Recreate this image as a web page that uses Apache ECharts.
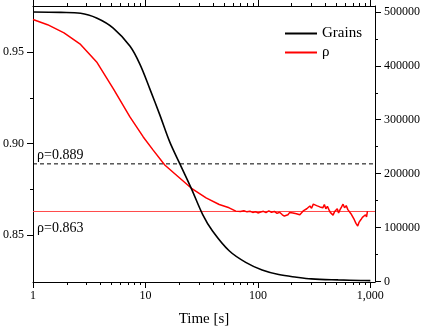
<!DOCTYPE html>
<html><head><meta charset="utf-8">
<script src="https://cdn.jsdelivr.net/npm/echarts@6/dist/echarts.min.js"></script>
<style>html,body{margin:0;padding:0;background:#fff}#c{width:423px;height:332px}</style>
</head><body><div id="c"></div>
<script>
// ---- data ----
const grainsT = [1, 1.765, 2.648, 3.716, 5.17, 7.30, 8.94, 10.96, 13.42, 16.44, 20.14, 25.5, 32.3, 39.5, 55.5, 77.9, 109, 153, 221, 299, 517, 825, 1000];
const grainsV = [500000, 499100, 497600, 488400, 470100, 436300, 402700, 356800, 309000, 258900, 219100, 173200, 124100, 93600, 56900, 35400, 21300, 12850, 7900, 4800, 2900, 1840, 1500];

const rhoT = [1, 1.347, 1.887, 2.648, 3.716, 5.204, 7.30, 9.56, 11.71, 14.85, 19.45, 25.5, 34.6, 45.3, 55.5,
  63.6, 66, 70, 75, 80, 85, 90, 95, 100, 106, 112, 118, 125, 132, 140, 148, 156, 165, 172, 178, 185, 192, 198, 205, 212, 220, 228, 236, 245, 255, 263, 272, 281, 290, 300, 311, 322, 333, 345, 356, 366, 378, 390, 402, 415, 428, 440, 452, 466, 480, 494, 508, 522, 538, 555, 572, 590, 610, 631, 650, 672, 698, 720, 745, 772, 795, 825, 850, 870, 882, 905, 925, 943];
const rhoV = [0.9678, 0.9650, 0.9605, 0.9542, 0.9443, 0.9298, 0.9145, 0.9037, 0.8965, 0.8884, 0.8821, 0.8758, 0.8704, 0.8668, 0.8650,
  0.8632, 0.8636, 0.8630, 0.8634, 0.8628, 0.8631, 0.8625, 0.8629, 0.8622, 0.8627, 0.8631, 0.8624, 0.8633, 0.8626, 0.8630, 0.8620, 0.8626, 0.8612, 0.8605, 0.8601, 0.8612, 0.8625, 0.8634, 0.8622, 0.8630, 0.8618, 0.8626, 0.8612, 0.8620, 0.8635, 0.8628, 0.8645, 0.8638, 0.8660, 0.8648, 0.8670, 0.8680, 0.8662, 0.8672, 0.8655, 0.8664, 0.8650, 0.8668, 0.8645, 0.8658, 0.8640, 0.8625, 0.8632, 0.8610, 0.8628, 0.8618, 0.8645, 0.8622, 0.8640, 0.8655, 0.8670, 0.8650, 0.8662, 0.8640, 0.8630, 0.8618, 0.8612, 0.8585, 0.8565, 0.8551, 0.8572, 0.8586, 0.8598, 0.8590, 0.8605, 0.8612, 0.8600, 0.8632];

const refLines = [0.889, 0.863];
const refLabels = ['ρ=0.889', 'ρ=0.863'];

const xMajorTicks = [1, 10, 100, 1000];
const xMinorTicks = [2,3,4,5,6,7,8,9,20,30,40,50,60,70,80,90,200,300,400,500,600,700,800,900];
const leftLabels = [0.85, 0.90, 0.95];
const leftMinor = [0.875, 0.925];
const rightLabels = [0, 100000, 200000, 300000, 400000, 500000];
const rightMinor = [50000, 150000, 250000, 350000, 450000];

// ---- chart ----
const FONT = 'Liberation Serif';
const black = '#000';
const xMin = 1, xMax = 1100;
const yLMin = 0.8245, yLMax = 0.9752;
const yRMin = -1000, yRMax = 511000;

function xAx(pos, ticks, len, showLine, showLabel, extra) {
  return Object.assign({
    type: 'log', logBase: 10, min: xMin, max: xMax, position: pos, gridIndex: 0,
    axisLine: {show: showLine, onZero: false, lineStyle: {color: black, width: 1}},
    axisTick: {show: true, inside: false, length: len, customValues: ticks, lineStyle: {color: black, width: 1}},
    axisLabel: {show: showLabel, customValues: ticks, color: black, fontFamily: FONT, fontSize: 12, margin: 8},
    splitLine: {show: false}, minorTick: {show: false}
  }, extra || {});
}
function yAx(pos, mn, mx, ticks, len, showLine, showLabel, fmt, extra) {
  return Object.assign({
    type: 'value', min: mn, max: mx, position: pos,
    axisLine: {show: showLine, onZero: false, lineStyle: {color: black, width: 1}},
    axisTick: {show: true, inside: false, length: len, customValues: ticks, lineStyle: {color: black, width: 1}},
    axisLabel: {show: showLabel, customValues: ticks, color: black, fontFamily: FONT, fontSize: 12, margin: 9, formatter: fmt},
    splitLine: {show: false}
  }, extra || {});
}
function refSeries(i, color, dash, dy, width) {
  return {
    name: 'ref' + i, type: 'line', xAxisIndex: 0, yAxisIndex: 0, silent: true,
    showSymbol: true, symbol: 'circle', symbolSize: 0,
    color: color,
    lineStyle: {color: color, type: dash, width: width, opacity: 1},
    itemStyle: {color: color},
    emphasis: {disabled: true},
    z: 1,
    data: [
      {value: [xMin, refLines[i]],
       label: {show: true, position: 'right', distance: 4, offset: [0, dy], formatter: refLabels[i],
               color: black, fontFamily: FONT, fontSize: 14}},
      {value: [xMax, refLines[i]], label: {show: false}}
    ]
  };
}

const option = {
  animation: false,
  backgroundColor: '#fff',
  grid: {left: 32, right: 46, top: 6, bottom: 47, containLabel: false},
  legend: {
    orient: 'vertical', left: 280, top: 21, itemWidth: 32, itemHeight: 2, itemGap: 4, icon: 'rect',
    textStyle: {fontFamily: FONT, fontSize: 15, color: black, lineHeight: 15},
    data: ['Grains', 'ρ']
  },
  xAxis: [
    xAx('bottom', xMajorTicks, 6, true, true, {name: 'Time [s]', nameLocation: 'middle', nameGap: 30,
      nameTextStyle: {fontFamily: FONT, fontSize: 15, color: black}}),
    xAx('bottom', xMinorTicks, 3, false, false),
    xAx('top', xMajorTicks, 6, true, false),
    xAx('top', xMinorTicks, 3, false, false)
  ],
  yAxis: [
    yAx('left', yLMin, yLMax, leftLabels, 6, true, true, v => v.toFixed(2)),
    yAx('left', yLMin, yLMax, leftMinor, 3, false, false),
    yAx('right', yRMin, yRMax, rightLabels, 6, true, true, v => String(v)),
    yAx('right', yRMin, yRMax, rightMinor, 3, false, false)
  ],
  series: [
    refSeries(0, '#000000', [4, 3], -9, 1),
    refSeries(1, '#ff4a4a', 'solid', 17, 1),
    {
      name: 'Grains', type: 'line', xAxisIndex: 0, yAxisIndex: 2, showSymbol: false, smooth: 0.35,
      lineStyle: {color: black, width: 1.6}, itemStyle: {color: black},
      data: grainsT.map((t, i) => [t, grainsV[i]]), z: 3
    },
    {
      name: 'ρ', type: 'line', xAxisIndex: 0, yAxisIndex: 0, showSymbol: false,
      lineStyle: {color: '#ff0000', width: 1.5}, itemStyle: {color: '#ff0000'},
      data: rhoT.map((t, i) => [t, rhoV[i]]), z: 2
    }
  ]
};
const chart = echarts.init(document.getElementById('c'), null, {renderer: 'canvas'});
chart.setOption(option);
</script></body></html>
